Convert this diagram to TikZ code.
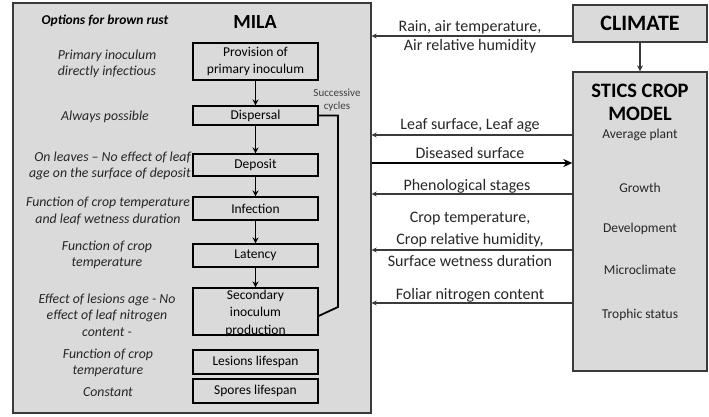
\documentclass[tikz,border=0pt]{standalone}
\usepackage{fontspec}
\setmainfont{Carlito}
\usetikzlibrary{arrows.meta}
\definecolor{mgray}{HTML}{DADADA}
\definecolor{lcol}{HTML}{3A3A3A}
\begin{document}
\begin{tikzpicture}[x=1pt,y=-1pt,
  bigbox/.style={draw=lcol, line width=1.3pt, fill=mgray, rectangle, inner sep=0pt},
  stepbox/.style={draw=black, line width=1.1pt, fill=mgray, rectangle, inner sep=0pt, minimum width=125pt, font=\fontsize{13.5}{17}\selectfont, align=center},
  opt/.style={font=\fontsize{13.8}{16.5}\selectfont\itshape, align=center, inner sep=0pt, text=black!85},
  lab/.style={font=\fontsize{16}{19}\selectfont, align=center, inner sep=0pt, text=black!85},
  sub/.style={font=\fontsize{13.5}{15}\selectfont, inner sep=0pt, text=black!85},
  down/.style={-{Stealth[length=6pt,width=6pt]}, line width=1.3pt, black},
  larrow/.style={-{Stealth[length=5pt,width=5pt]}, line width=1.3pt, lcol},
  ]
\useasboundingbox (0,0) rectangle (709,416);
% MILA frame
\node[bigbox, minimum width=358pt, minimum height=410pt] (mila) at (192,208) {};
\node[font=\fontsize{20}{22}\selectfont\bfseries, inner sep=0pt] (milat) at (255,22) {MILA};
\node[font=\fontsize{13.5}{15}\selectfont\bfseries\itshape, inner sep=0pt] (optt) at (105,21) {Options for brown rust};
% step boxes
\node[stepbox, minimum height=37pt] (prov) at (255.5,61.5) {Provision of\\primary inoculum};
\node[stepbox, minimum height=19pt] (disp) at (255.5,115.5) {Dispersal};
\node[stepbox, minimum height=22pt] (depo) at (255.5,165) {Deposit};
\node[stepbox, minimum height=23pt] (infe) at (255.5,208.5) {Infection};
\node[stepbox, minimum height=23pt] (late) at (255.5,255.5) {Latency};
\node[stepbox, minimum height=47pt] (seco) at (255.5,311.5) {};
\node[font=\fontsize{13.5}{17.5}\selectfont, align=center, inner sep=0pt] (secot) at (255.5,313) {Secondary\\inoculum\\production};
\node[stepbox, minimum height=24pt] (lesi) at (255.5,362) {Lesions lifespan};
\node[stepbox, minimum height=24pt] (spor) at (255.5,391) {Spores lifespan};
\draw[down] (prov) -- (disp);
\draw[down] (disp) -- (depo);
\draw[down] (depo) -- (infe);
\draw[down] (infe) -- (late);
\draw[down] (late) -- (seco);
% successive cycles loop
\coordinate (lp) at (338,307);
\draw[line width=1.8pt, black] ([yshift=-4.5pt]seco.east) -- (lp) -- (lp |- disp.east) -- (disp.east);
\node[font=\fontsize{11}{13.5}\selectfont, align=center, inner sep=0pt, text=black!75] (succ) at (337,100) {Successive\\cycles};
% options texts
\node[opt] (o1) at (107,64) {Primary inoculum\\directly infectious};
\node[opt] (o2) at (105,117) {Always possible};
\node[opt, align=right, anchor=east] (o3) at (191,166) {On leaves -- No effect of leaf\\age on the surface of deposit};
\node[opt] (o4) at (108,211) {Function of crop temperature\\and leaf wetness duration};
\node[opt] (o5) at (107,255) {Function of crop\\temperature};
\node[opt] (o6) at (107,315) {Effect of lesions age - No\\effect of leaf nitrogen\\content -};
\node[opt] (o7) at (108,363) {Function of crop\\temperature};
\node[opt] (o8) at (108,392) {Constant};
% CLIMATE and STICS
\node[bigbox, minimum width=134pt, minimum height=37pt, font=\fontsize{22}{24}\selectfont\bfseries] (clim) at (640,23.5) {CLIMATE};
\node[bigbox, minimum width=134pt, minimum height=299pt] (stic) at (640,221.5) {};
\node[font=\fontsize{20.5}{23}\selectfont\bfseries, align=center, inner sep=0pt] (stt) at (640,102) {STICS CROP\\MODEL};
\node[sub] (s1) at (640,135) {Average plant};
\node[sub] (s2) at (640,188) {Growth};
\node[sub] (s3) at (640,229) {Development};
\node[sub] (s4) at (640,270) {Microclimate};
\node[sub] (s5) at (640,315) {Trophic status};
\draw[down, line width=1.1pt, lcol] (clim) -- (stic);
% exchange arrows
\coordinate (r1) at (0,36);
\coordinate (r2) at (0,135);
\coordinate (r3) at (0,163);
\coordinate (r4) at (0,194);
\coordinate (r5) at (0,250);
\coordinate (r6) at (0,303);
\draw[larrow] (clim.west |- r1) -- (mila.east |- r1);
\draw[larrow] (stic.west |- r2) -- (mila.east |- r2);
\draw[-{Stealth[length=9pt,width=8pt]}, line width=2.2pt, black] (mila.east |- r3) -- (stic.west |- r3);
\draw[larrow] (stic.west |- r4) -- (mila.east |- r4);
\draw[larrow] (stic.west |- r5) -- (mila.east |- r5);
\draw[larrow] (stic.west |- r6) -- (mila.east |- r6);
\node[lab] (l1) at (470,37) {Rain, air temperature,\\Air relative humidity};
\node[lab] (l2) at (470,125) {Leaf surface, Leaf age};
\node[lab] (l3) at (470,153) {Diseased surface};
\node[lab] (l4) at (467,186) {Phenological stages};
\node[lab, font=\fontsize{16}{22}\selectfont] (l5) at (470,239) {Crop temperature,\\Crop relative humidity,\\Surface wetness duration};
\node[lab] (l6) at (470,295) {Foliar nitrogen content};
\end{tikzpicture}
\end{document}
